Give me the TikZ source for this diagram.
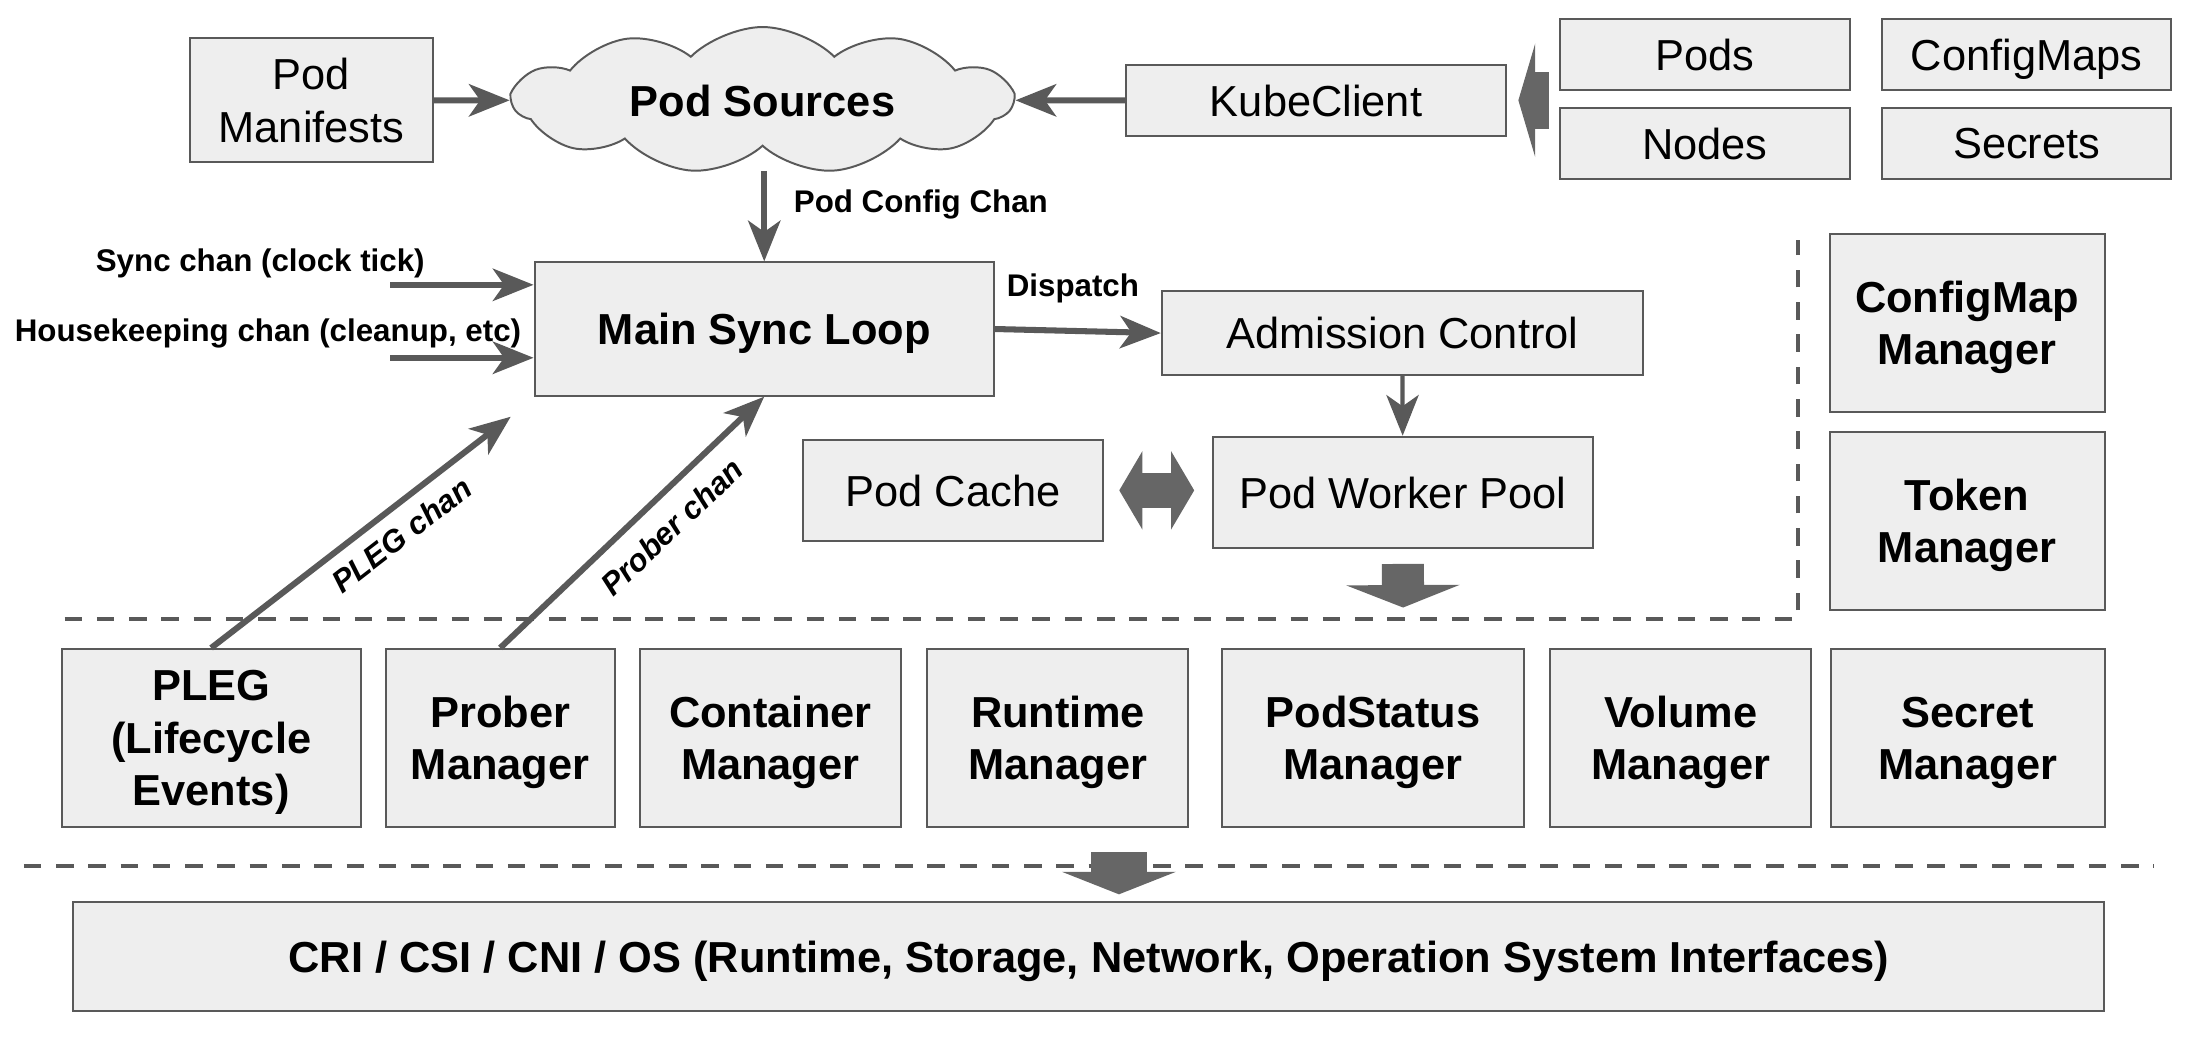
\documentclass[tikz,border=0pt]{standalone}
\usepackage{fontspec}
\setmainfont{Liberation Sans}
\usepackage{tikz}
\usetikzlibrary{arrows.meta, shapes.symbols, positioning}
\definecolor{boxfill}{HTML}{EEEEEE}
\definecolor{edgegray}{HTML}{595959}
\definecolor{blockgray}{HTML}{666666}

\begin{document}
\begin{tikzpicture}[
    x=0.02cm, y=-0.02cm,
    box/.style={draw=edgegray, fill=boxfill, line width=0.8pt, align=center, inner sep=0pt, text depth=0pt, font=\fontsize{17.6}{21.2}\selectfont},
    bbox/.style={box, font=\fontsize{17.6}{21.2}\selectfont\bfseries},
    mgr/.style={bbox, minimum height=2.54cm},
    lbl/.style={inner sep=0pt, font=\fontsize{12.7}{15}\selectfont\bfseries},
    slbl/.style={lbl, font=\fontsize{12.7}{15}\selectfont\bfseries\itshape, sloped, below},
    arr/.style={draw=edgegray, line width=2.45pt, -{Stealth[length=0.58cm, width=0.46cm, inset=0.16cm]}},
    blk/.style={draw=blockgray, line width=#1},
    sep/.style={draw=edgegray, line width=1.7pt, dash pattern=on 0.25cm off 0.21cm}
]
\useasboundingbox (0,0) rectangle (1568,746);

\node[box, minimum width=3.46cm, minimum height=1.77cm] (pm) at (222,71.5) {Pod\\Manifests};
\node[bbox, cloud, cloud puffs=11, cloud puff arc=90, aspect=3.5, minimum width=7.12cm, minimum height=1.7cm] (src) at (543.5,71.5) {Pod Sources};
\node[box, minimum width=5.42cm, minimum height=1.01cm] (kc) at (938,71.5) {KubeClient};
\node[box, minimum width=4.13cm, minimum height=1.01cm] (pods) at (1215,38.8) {Pods};
\node[box, minimum width=4.11cm, minimum height=1.01cm] (cms) at (1444.4,38.8) {ConfigMaps};
\node[box, minimum width=4.13cm, minimum height=1.01cm] (nds) at (1215,102.2) {Nodes};
\node[box, minimum width=4.11cm, minimum height=1.01cm] (scr) at (1444.4,102.2) {Secrets};

\node[bbox, minimum width=6.55cm, minimum height=1.9cm] (msl) at (544.7,234.5) {Main Sync Loop};
\node[box, minimum width=6.86cm, minimum height=1.2cm] (adm) at (999.5,237.4) {Admission Control};
\node[box, minimum width=5.42cm, minimum height=1.59cm] (pwp) at (999.8,351) {Pod Worker Pool};
\node[box, minimum width=4.27cm, minimum height=1.44cm] (pc) at (679.3,349.5) {Pod Cache};
\node[bbox, minimum width=3.92cm, minimum height=2.53cm] (cmm) at (1402,230.1) {ConfigMap\\Manager};
\node[bbox, minimum width=3.92cm, minimum height=2.54cm] (tkm) at (1402,371.4) {Token\\Manager};

\node[mgr, minimum width=4.26cm] (pleg) at (150.5,526) {PLEG\\(Lifecycle\\Events)};
\node[mgr, minimum width=3.26cm] (prm) at (356.5,526) {Prober\\Manager};
\node[mgr, minimum width=3.72cm] (ctm) at (549,526) {Container\\Manager};
\node[mgr, minimum width=3.72cm] (rtm) at (754,526) {Runtime\\Manager};
\node[mgr, minimum width=4.3cm] (psm) at (978.5,526) {PodStatus\\Manager};
\node[mgr, minimum width=3.72cm] (vlm) at (1198,526) {Volume\\Manager};
\node[mgr, minimum width=3.9cm] (scm) at (1402.5,526) {Secret\\Manager};
\node[bbox, minimum width=28.96cm, minimum height=1.56cm] (cri) at (776,681.6) {CRI / CSI / CNI / OS (Runtime, Storage, Network, Operation System Interfaces)};

\node[lbl] (synct) at (185.5,187.5) {Sync chan (clock tick)};
\node[lbl] (hkt) at (191,238) {Housekeeping chan (cleanup, etc)};
\coordinate (syncin) at (278,203);
\coordinate (hkin) at (278,255);
\coordinate (plegout) at (364,297);
\coordinate (pwpout) at (1000,433);
\coordinate (osin) at (797.5,607.5);

\draw[sep] (46,441) -- (1281.6,441) -- (1281.6,171);
\draw[sep] (17,617.5) -- (1535,617.5);

\draw[arr] (pm) -- (src);
\draw[arr] (kc) -- (src);
\draw[arr, shorten <=0.34cm] (msl.north |- src.south) -- node[lbl, anchor=west, pos=0.5, xshift=0.38cm] (pcc) {Pod Config Chan} (msl.north);
\draw[arr] (syncin) -- (syncin -| msl.west);
\draw[arr] (hkin) -- (hkin -| msl.west);
\draw[arr] (msl.east) -- node[lbl, above=0.36cm, pos=0.47] (dsp) {Dispatch} (adm.west);
\draw[arr, line width=1.7pt] (adm) -- (pwp);
\draw[arr] (pleg.north) -- node[slbl, pos=0.58, inner sep=5pt] (plegt) {PLEG chan} (plegout);
\draw[arr] (prm.north) -- node[slbl, pos=0.57, inner sep=6.5pt] (prbt) {Prober chan} (msl.south);

\draw[blk=0.82cm, -{Triangle[length=0.24cm, width=1.62cm, line width=0pt]}, shorten <=0.14cm, shorten >=0.16cm] (kc.east -| pods.west) -- (kc.east);
\draw[blk=0.5cm, {Triangle[length=0.33cm, width=1.12cm, line width=0pt]}-{Triangle[length=0.33cm, width=1.12cm, line width=0pt]}, shorten <=0.22cm, shorten >=0.25cm] (pc.east) -- (pc.east -| pwp.west);
\draw[blk=0.6cm, -{Triangle[length=0.32cm, width=1.62cm, line width=0pt]}, shorten <=0.21cm] (pwp.south) -- (pwpout);
\draw[blk=0.8cm, -{Triangle[length=0.32cm, width=1.62cm, line width=0pt]}, shorten >=0.09cm] (osin) -- (osin |- cri.north);

\end{tikzpicture}
\end{document}
